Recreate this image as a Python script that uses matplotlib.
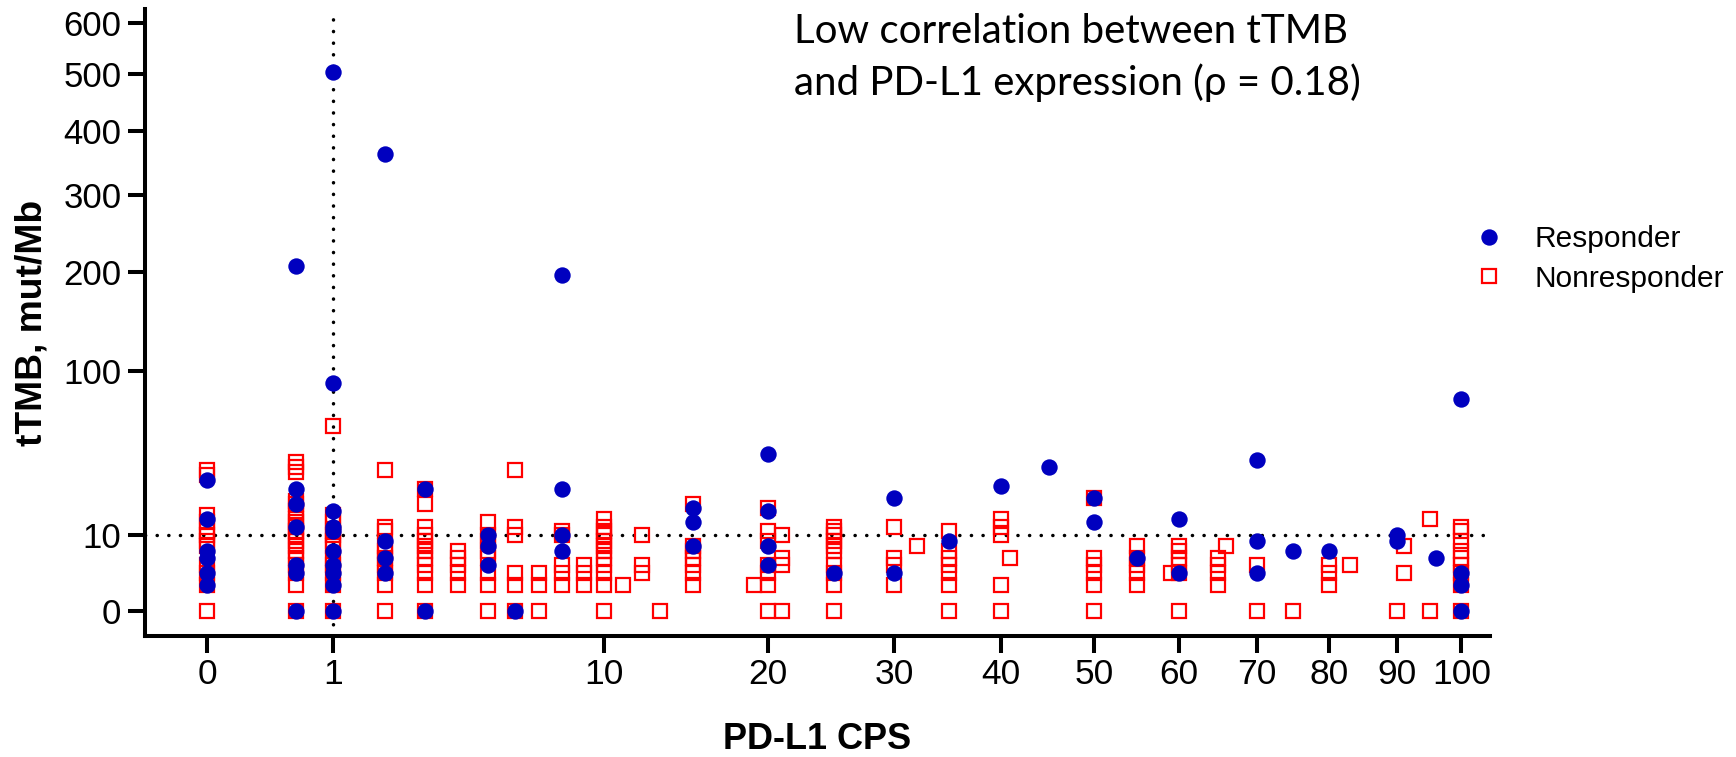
import numpy as np
import matplotlib
matplotlib.use("Agg")
import matplotlib.pyplot as plt

# PD-L1 combined positive score (x) and tissue TMB in mut/Mb (y)
responder_cps = [0, 0, 0, 0, 0, 0,
                 0.5, 0.5, 0.5, 0.5, 0.5, 0.5, 0.5,
                 1, 1, 1, 1, 1, 1, 1, 1, 1, 1,
                 2, 2, 2, 2,
                 3, 3,
                 5, 5, 5,
                 6,
                 8, 8, 8, 8,
                 15, 15, 15,
                 20, 20, 20, 20,
                 25,
                 30, 30,
                 35,
                 40,
                 45,
                 50, 50,
                 55,
                 60, 60,
                 70, 70, 70,
                 75,
                 80,
                 90, 90,
                 96,
                 100, 100, 100, 100]
responder_tmb = [29.6, 14.8, 6.2, 4.9, 2.5, 1.2,
                 206, 25.9, 19.8, 12.3, 3.7, 2.5, 0,
                 505, 90, 17.3, 12.3, 11.1, 6.2, 3.7, 2.5, 1.2, 0,
                 362, 8.6, 4.9, 2.5,
                 25.9, 0,
                 9.9, 7.4, 3.7,
                 0,
                 196, 25.9, 9.9, 6.2,
                 18.5, 13.6, 7.4,
                 42.6, 17.3, 7.4, 3.7,
                 2.5,
                 22.2, 2.5,
                 8.6,
                 27.2,
                 35.8,
                 22.2, 13.6,
                 4.9,
                 14.8, 2.5,
                 39.5, 8.6, 2.5,
                 6.2,
                 6.2,
                 9.9, 8.6,
                 4.9,
                 78, 2.5, 1.2, 0]

nonresponder_cps = ([0] * 12 + [0.5] * 19 + [1] * 12 + [2] * 10 + [3] * 12
                    + [4] * 5 + [5] * 8 + [6] * 6 + [7] * 3 + [8] * 5 + [9] * 3
                    + [10] * 12 + [11] + [12] * 3 + [13] + [15] * 7 + [19]
                    + [20] * 7 + [21] * 4 + [25] * 10 + [30] * 4 + [32]
                    + [35] * 7 + [40] * 5 + [41] + [50] * 6 + [55] * 5 + [59]
                    + [60] * 6 + [65] * 4 + [66] + [70] * 2 + [75] + [80] * 3
                    + [83] + [90] + [91] * 2 + [95] * 2 + [100] * 9)
nonresponder_tmb = [
    34.6, 32.1, 16.0, 11.1, 9.9, 8.6, 7.4, 3.7, 2.5, 1.2, 0, 13.6,
    38.3, 35.8, 33.3, 21.0, 19.8, 17.3, 14.8, 13.6, 12.3, 11.1, 9.9, 8.6, 7.4, 6.2, 4.9, 3.7, 2.5, 1.2, 0,
    59.3, 16.0, 13.6, 11.1, 9.9, 8.6, 7.4, 4.9, 3.7, 2.5, 1.2, 0,
    34.6, 12.3, 11.1, 7.4, 6.2, 4.9, 3.7, 2.5, 1.2, 0,
    25.9, 19.8, 12.3, 9.9, 8.6, 7.4, 6.2, 4.9, 3.7, 2.5, 1.2, 0,
    6.2, 4.9, 3.7, 2.5, 1.2,
    13.6, 9.9, 8.6, 6.2, 4.9, 2.5, 1.2, 0,
    34.6, 12.3, 9.9, 2.5, 1.2, 0,
    2.5, 1.2, 0,
    11.1, 9.9, 3.7, 2.5, 1.2,
    3.7, 2.5, 1.2,
    14.8, 12.3, 11.1, 9.9, 8.6, 7.4, 6.2, 4.9, 3.7, 2.5, 1.2, 0,
    1.2,
    9.9, 3.7, 2.5,
    0,
    19.8, 7.4, 6.2, 4.9, 3.7, 2.5, 1.2,
    1.2,
    18.5, 11.1, 8.6, 3.7, 2.5, 1.2, 0,
    9.9, 4.9, 3.7, 0,
    12.3, 11.1, 9.9, 8.6, 7.4, 6.2, 3.7, 2.5, 1.2, 0,
    12.3, 4.9, 3.7, 1.2,
    7.4,
    11.1, 6.2, 4.9, 3.7, 2.5, 1.2, 0,
    14.8, 12.3, 9.9, 1.2, 0,
    4.9,
    22.2, 4.9, 3.7, 2.5, 1.2, 0,
    7.4, 4.9, 3.7, 2.5, 1.2,
    2.5,
    7.4, 6.2, 4.9, 3.7, 2.5, 0,
    4.9, 3.7, 2.5, 1.2,
    7.4,
    3.7, 0,
    0,
    3.7, 2.5, 1.2,
    3.7,
    0,
    7.4, 2.5,
    14.8, 0,
    12.3, 11.1, 8.6, 6.2, 4.9, 3.7, 2.5, 1.2, 0,
]

x_ticks = [0, 1, 10, 20, 30, 40, 50, 60, 70, 80, 90, 100]
y_ticks = [0, 10, 100, 200, 300, 400, 500, 600]
x_ref = 1      # PD-L1 CPS cut-off
y_ref = 10     # tTMB cut-off

W, H = 1736, 757
fig = plt.figure(figsize=(W / 100, H / 100), dpi=100)
ax = fig.add_axes([145 / W, 121 / H, (1490 - 145) / W, (636 - 9) / H])


def fwd(v):
    v = np.asarray(v, dtype=float)
    return np.sign(v) * np.sqrt(np.abs(v))


def inv(v):
    v = np.asarray(v, dtype=float)
    return np.sign(v) * v ** 2


ax.set_xscale("function", functions=(fwd, inv))
ax.set_yscale("function", functions=(fwd, inv))
ax.set_xlim(-0.248, 104.6)
ax.set_ylim(-1.085, 629)

dot_style = dict(color="black", linewidth=2.5, linestyle=(0, (0.05, 3.3)),
                 dash_capstyle="round", zorder=1)
ax.axhline(y_ref, **dot_style)
ax.axvline(x_ref, **dot_style)

ax.plot(nonresponder_cps, nonresponder_tmb, "s", linestyle="none",
        markerfacecolor="none", markeredgecolor="#FF0000",
        markersize=10.5, markeredgewidth=1.6, zorder=2, label="Nonresponder")
ax.plot(responder_cps, responder_tmb, "o", linestyle="none",
        color="#0000BF", markeredgewidth=0, markersize=11.8, zorder=3,
        label="Responder")

tick_font = "Liberation Sans"
ax.set_xticks(x_ticks)
ax.set_xticklabels([str(t) for t in x_ticks], fontsize=25.5, family=tick_font)
ax.set_yticks(y_ticks)
ax.set_yticklabels([str(t) for t in y_ticks], fontsize=25, family=tick_font)
ax.minorticks_off()
ax.tick_params(axis="both", length=12, width=2.9, color="black")
ax.tick_params(axis="x", pad=4)
ax.tick_params(axis="y", pad=5)

for side in ("top", "right"):
    ax.spines[side].set_visible(False)
for side in ("left", "bottom"):
    ax.spines[side].set_linewidth(2.9)

ax.set_xlabel("PD-L1 CPS", fontsize=26, fontweight="bold",
              family=tick_font, labelpad=22)
ax.set_ylabel("tTMB, mut/Mb", fontsize=26.8, fontweight="bold",
              family=tick_font, labelpad=10)

fig.text(794 / W, 1 - 43.3 / H, "Low correlation between tTMB",
         fontsize=29, family="Lato", va="baseline", ha="left")
fig.text(794 / W, 1 - 95 / H, "and PD-L1 expression (\u03c1 = 0.18)",
         fontsize=29, family="Lato", va="baseline", ha="left")

handles, labels = ax.get_legend_handles_labels()
fig.legend(handles[::-1], labels[::-1], loc="center left",
           bbox_to_anchor=(1474 / W, 1 - 259 / H), frameon=False,
           prop={"family": tick_font, "size": 21.5},
           handlelength=1.0, handletextpad=1.04, borderpad=0,
           borderaxespad=0, labelspacing=0.37, numpoints=1)

fig.savefig("out.png", dpi=100)
